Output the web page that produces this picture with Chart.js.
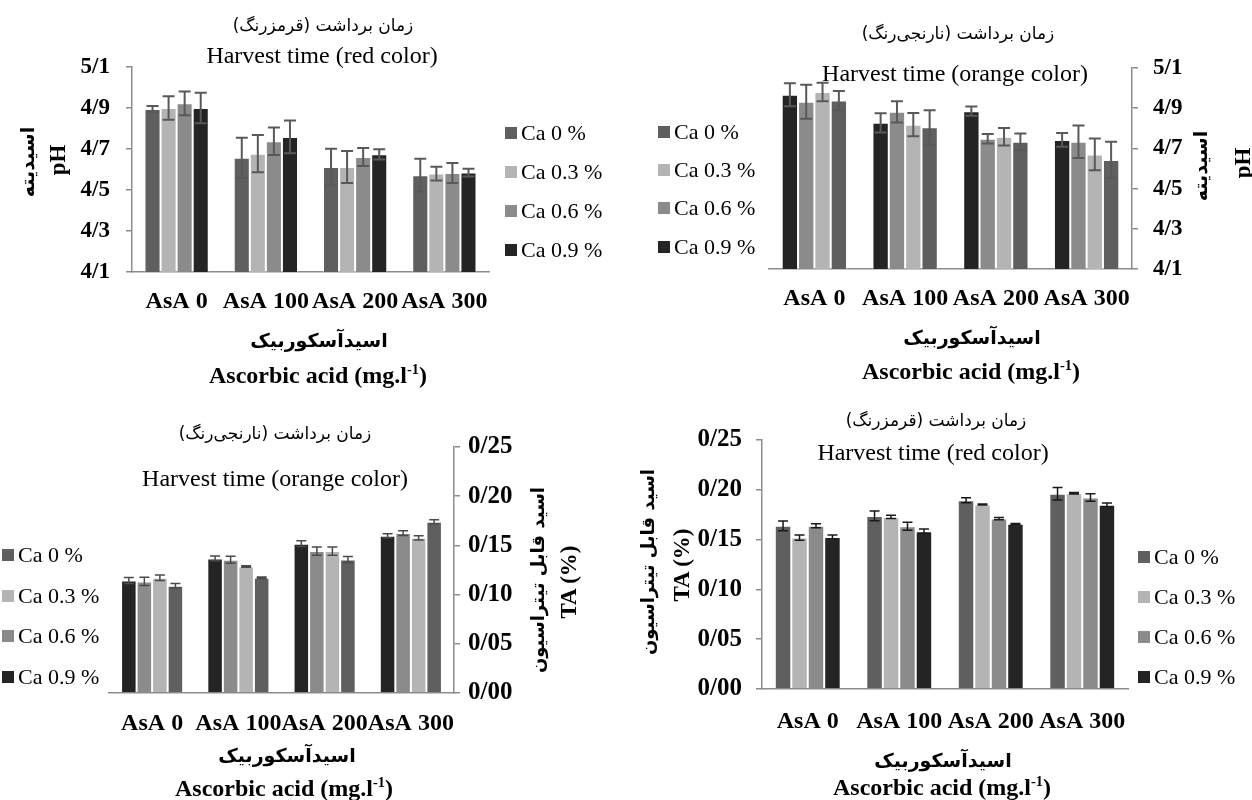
<!DOCTYPE html>
<html>
<head>
<meta charset="utf-8">
<script src="https://cdn.jsdelivr.net/npm/chart.js@4.4.1/dist/chart.umd.min.js"></script>
<style>
  html, body { margin: 0; padding: 0; background: #fff; }
  #page { position: relative; width: 1252px; height: 800px; overflow: hidden; background: #fff; }
  canvas { position: absolute; }
  .t { position: absolute; white-space: nowrap; transform: translate(-50%, -50%); line-height: 1; color: #000; }
  .en { font-family: 'Liberation Serif', 'Times New Roman', serif; }
  .fa { font-family: 'DejaVu Sans', sans-serif; direction: rtl; }
  .b { font-weight: bold; }
  .rot { transform: translate(-50%, -50%) rotate(-90deg); }
  .t sup { font-size: 0.6em; line-height: 0; }
  .leg { position: absolute; display: flex; align-items: center; height: 24px; margin-top: -12px;
         font-family: 'Liberation Serif', serif; font-size: 22px; white-space: nowrap; }
  .leg i { display: inline-block; width: 12px; height: 12px; margin-right: 4px; }
</style>
</head>
<body>
<div id="page">
  <canvas id="c1" width="620" height="400" style="left:0;top:0"></canvas>
  <canvas id="c2" width="632" height="400" style="left:620px;top:0"></canvas>
  <canvas id="c3" width="560" height="400" style="left:0;top:400px"></canvas>
  <canvas id="c4" width="692" height="400" style="left:560px;top:400px"></canvas>

  <!-- panel 1 -->
  <div class="t fa" style="left:323px;top:25px;font-size:17px">زمان برداشت (قرمزرنگ)</div>
  <div class="t en" style="left:322px;top:55px;font-size:24px">Harvest time (red color)</div>
  <div class="t fa b rot" style="left:27px;top:162px;font-size:19px">اسیدیته</div>
  <div class="t en b rot" style="left:57px;top:160px;font-size:23px">pH</div>
  <div class="t fa b" style="left:319px;top:340px;font-size:19px">اسیدآسکوربیک</div>
  <div class="t en b" style="left:318px;top:375px;font-size:24px">Ascorbic acid (mg.l<sup>-1</sup>)</div>

  <!-- panel 2 -->
  <div class="t fa" style="left:958px;top:33px;font-size:17px">زمان برداشت (نارنجی‌رنگ)</div>
  <div class="t en" style="left:955px;top:73px;font-size:24px">Harvest time (orange color)</div>
  <div class="t fa b rot" style="left:1200px;top:166px;font-size:19px">اسیدیته</div>
  <div class="t en b rot" style="left:1242px;top:163px;font-size:23px">pH</div>
  <div class="t fa b" style="left:972px;top:337px;font-size:19px">اسیدآسکوربیک</div>
  <div class="t en b" style="left:971px;top:371px;font-size:24px">Ascorbic acid (mg.l<sup>-1</sup>)</div>

  <!-- panel 3 -->
  <div class="t fa" style="left:275px;top:433px;font-size:17px">زمان برداشت (نارنجی‌رنگ)</div>
  <div class="t en" style="left:275px;top:478px;font-size:24px">Harvest time (orange color)</div>
  <div class="t fa b rot" style="left:538px;top:580px;font-size:18px">اسید قابل تیتراسیون</div>
  <div class="t en b rot" style="left:568px;top:582px;font-size:23px">TA (%)</div>
  <div class="t fa b" style="left:287px;top:755px;font-size:19px">اسیدآسکوربیک</div>
  <div class="t en b" style="left:284px;top:788px;font-size:24px">Ascorbic acid (mg.l<sup>-1</sup>)</div>

  <!-- panel 4 -->
  <div class="t fa" style="left:936px;top:420px;font-size:17px">زمان برداشت (قرمزرنگ)</div>
  <div class="t en" style="left:933px;top:452px;font-size:24px">Harvest time (red color)</div>
  <div class="t fa b rot" style="left:648px;top:562px;font-size:18px">اسید قابل تیتراسیون</div>
  <div class="t en b rot" style="left:681px;top:565px;font-size:23px">TA (%)</div>
  <div class="t fa b" style="left:943px;top:760px;font-size:19px">اسیدآسکوربیک</div>
  <div class="t en b" style="left:942px;top:787px;font-size:24px">Ascorbic acid (mg.l<sup>-1</sup>)</div>
</div>

<script>
// Kategorije i serije
const categories = ['AsA 0', 'AsA 100', 'AsA 200', 'AsA 300'];
const seriesNames = ['Ca 0 %', 'Ca 0.3 %', 'Ca 0.6 %', 'Ca 0.9 %'];
const seriesColors = ['#5f5f5f', '#b4b4b4', '#8b8b8b', '#242424'];

// Oznake na y osi
const phTicks = [4.1, 4.3, 4.5, 4.7, 4.9, 5.1];
const phTickLabels = ['4/1', '4/3', '4/5', '4/7', '4/9', '5/1'];
const taTicks = [0, 0.05, 0.10, 0.15, 0.20, 0.25];
const taTickLabels = ['0/00', '0/05', '0/10', '0/15', '0/20', '0/25'];

// pH, crvena boja (redovi: Ca 0, 0.3, 0.6, 0.9)
const phRed = [
  [4.895, 4.657, 4.612, 4.572],
  [4.900, 4.677, 4.612, 4.580],
  [4.923, 4.738, 4.661, 4.583],
  [4.900, 4.759, 4.674, 4.585]
];
const phRedErr = [
  [0.015, 0.098, 0.089, 0.080],
  [0.057, 0.091, 0.078, 0.034],
  [0.058, 0.067, 0.044, 0.049],
  [0.074, 0.080, 0.025, 0.019]
];

// pH, narandzasta boja
const phOrange = [
  [4.938, 4.805, 4.733, 4.642],
  [4.980, 4.818, 4.758, 4.670],
  [4.932, 4.882, 4.748, 4.733],
  [4.967, 4.827, 4.885, 4.742]
];
const phOrangeErr = [
  [0.048, 0.085, 0.041, 0.091],
  [0.046, 0.058, 0.044, 0.079],
  [0.085, 0.053, 0.024, 0.081],
  [0.057, 0.048, 0.023, 0.034]
];

// TA, narandzasta boja
const taOrange = [
  [0.1090, 0.1171, 0.1357, 0.1740],
  [0.1171, 0.1286, 0.1442, 0.1577],
  [0.1134, 0.1354, 0.1442, 0.1625],
  [0.1144, 0.1368, 0.1517, 0.1598]
];
const taOrangeErr = [
  [0.0022, 0.0007, 0.0030, 0.0020],
  [0.0027, 0.0008, 0.0042, 0.0022],
  [0.0042, 0.0036, 0.0041, 0.0024],
  [0.0030, 0.0024, 0.0029, 0.0020]
];

// TA, crvena boja
const taRed = [
  [0.1638, 0.1738, 0.1896, 0.1960],
  [0.1520, 0.1728, 0.1852, 0.1966],
  [0.1638, 0.1634, 0.1711, 0.1923],
  [0.1527, 0.1584, 0.1658, 0.1849]
];
const taRedErr = [
  [0.0050, 0.0049, 0.0025, 0.0062],
  [0.0027, 0.0017, 0.0005, 0.0007],
  [0.0020, 0.0040, 0.0012, 0.0037],
  [0.0018, 0.0022, 0.0004, 0.0018]
];

const axisGray = '#8c8c8c';
const serif = "'Liberation Serif', 'Times New Roman', serif";

// Plugin za error barove
const errorBarPlugin = {
  id: 'errorBars',
  afterDatasetsDraw(chart, args, opts) {
    const ctx = chart.ctx;
    const yScale = chart.scales.y;
    ctx.save();
    ctx.strokeStyle = opts.color;
    ctx.lineWidth = opts.width;
    chart.data.datasets.forEach((ds, i) => {
      chart.getDatasetMeta(i).data.forEach((bar, j) => {
        const top = yScale.getPixelForValue(ds.data[j] + ds.errors[j]);
        const bot = yScale.getPixelForValue(ds.data[j] - ds.errors[j]);
        const h = opts.cap / 2;
        ctx.beginPath();
        ctx.moveTo(bar.x, top); ctx.lineTo(bar.x, bot);
        ctx.moveTo(bar.x - h, top); ctx.lineTo(bar.x + h, top);
        ctx.moveTo(bar.x - h, bot); ctx.lineTo(bar.x + h, bot);
        ctx.stroke();
      });
    });
    ctx.restore();
  }
};

function makeChart(id, o) {
  // narandzasti grafovi imaju obrnut redoslijed stubova unutar grupe
  const order = o.reversed ? [3, 2, 1, 0] : [0, 1, 2, 3];
  const datasets = order.map(i => ({
    label: seriesNames[i],
    data: o.values[i],
    errors: o.errors[i],
    backgroundColor: seriesColors[i],
    borderColor: 'rgba(255,255,255,0.45)',
    borderWidth: 1,
    categoryPercentage: 0.72,
    barPercentage: 1
  }));

  return new Chart(document.getElementById(id), {
    type: 'bar',
    data: { labels: categories, datasets: datasets },
    options: {
      responsive: false,
      animation: false,
      layout: { padding: o.padding },
      plugins: {
        legend: { display: false },
        tooltip: { enabled: false },
        errorBars: o.err
      },
      scales: {
        x: {
          afterFit: s => { s.height = o.xHeight; },
          grid: { display: false },
          border: { display: true, color: axisGray, width: 1.5 },
          ticks: {
            color: '#000', padding: o.xPad, maxRotation: 0, autoSkip: false,
            font: { family: serif, size: 24, weight: 'bold' }
          }
        },
        y: {
          position: o.yPos,
          min: o.ticks[0],
          max: o.ticks[o.ticks.length - 1],
          afterBuildTicks: s => { s.ticks = o.ticks.map(v => ({ value: v })); },
          afterFit: s => { s.width = o.yWidth; },
          grid: { display: true, drawOnChartArea: false, drawTicks: true, tickLength: 6, color: axisGray, lineWidth: 1.5 },
          border: { display: true, color: axisGray, width: 1.5 },
          ticks: {
            color: '#000', padding: o.yPad,
            callback: (v, i) => o.tickLabels[i],
            font: { family: serif, size: o.tickSize, weight: 'bold' }
          }
        }
      }
    },
    plugins: [errorBarPlugin]
  });
}

// HTML legenda
function makeLegend(sqLeft, rows) {
  const page = document.getElementById('page');
  seriesNames.forEach((name, i) => {
    const row = document.createElement('div');
    row.className = 'leg';
    row.style.left = sqLeft + 'px';
    row.style.top = rows[i] + 'px';
    const sq = document.createElement('i');
    sq.style.background = seriesColors[i];
    row.appendChild(sq);
    row.appendChild(document.createTextNode(name));
    page.appendChild(row);
  });
}

makeChart('c1', {
  values: phRed, errors: phRedErr, ticks: phTicks, tickLabels: phTickLabels,
  reversed: false, yPos: 'left', yWidth: 132, yPad: 16, xHeight: 128, xPad: 7, tickSize: 23,
  padding: { left: 0, right: 131, top: 67, bottom: 0 },
  err: { color: '#595959', width: 2, cap: 12 }
});
makeChart('c2', {
  values: phOrange, errors: phOrangeErr, ticks: phTicks, tickLabels: phTickLabels,
  reversed: true, yPos: 'right', yWidth: 120, yPad: 15, xHeight: 131, xPad: 7, tickSize: 23,
  padding: { left: 149, right: 0, top: 68, bottom: 0 },
  err: { color: '#595959', width: 2, cap: 12 }
});
makeChart('c3', {
  values: taOrange, errors: taOrangeErr, ticks: taTicks, tickLabels: taTickLabels,
  reversed: true, yPos: 'right', yWidth: 106, yPad: 8, xHeight: 107, xPad: 8, tickSize: 25,
  padding: { left: 109, right: 0, top: 47, bottom: 0 },
  err: { color: '#4a4a4a', width: 1.5, cap: 10 }
});
makeChart('c4', {
  values: taRed, errors: taRedErr, ticks: taTicks, tickLabels: taTickLabels,
  reversed: false, yPos: 'left', yWidth: 202, yPad: 14, xHeight: 111, xPad: 10, tickSize: 25,
  padding: { left: 0, right: 124, top: 40, bottom: 0 },
  err: { color: '#1a1a1a', width: 1.5, cap: 10 }
});

makeLegend(505, [133, 172, 211, 250]);
makeLegend(658, [132, 170, 208, 247]);
makeLegend(2, [555, 596, 636, 677]);
makeLegend(1138, [557, 597, 637, 677]);
</script>
</body>
</html>
